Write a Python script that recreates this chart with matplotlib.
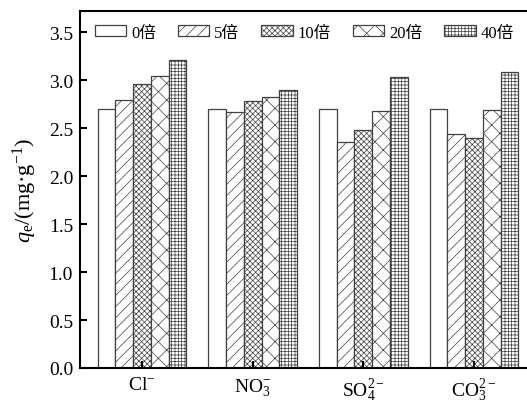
import numpy as np
import matplotlib
matplotlib.use('Agg')
import matplotlib.pyplot as plt

plt.rcParams['font.family'] = ['Liberation Serif', 'Noto Sans CJK SC']
plt.rcParams['mathtext.fontset'] = 'custom'
plt.rcParams['mathtext.rm'] = 'Liberation Serif'
plt.rcParams['mathtext.it'] = 'Liberation Serif:italic'
plt.rcParams['hatch.linewidth'] = 0.5

# data
ions = ['Cl$^{-}$', 'NO$_3^{-}$', 'SO$_4^{2-}$', 'CO$_3^{2-}$']
series_names = ['0倍', '5倍', '10倍', '20倍', '40倍']
q_0 = [2.70, 2.70, 2.70, 2.70]
q_5 = [2.79, 2.67, 2.35, 2.44]
q_10 = [2.96, 2.78, 2.48, 2.40]
q_20 = [3.04, 2.82, 2.68, 2.69]
q_40 = [3.21, 2.90, 3.03, 3.08]
y_ticks = [0.0, 0.5, 1.0, 1.5, 2.0, 2.5, 3.0, 3.5]

hatches = ['', '///', 'xxxxxx', 'xx', '+++++']
all_series = [q_0, q_5, q_10, q_20, q_40]

fig = plt.figure(figsize=(5.27, 4.06), dpi=100)
# axes runs a bit past the right edge like the cropped original
ax = fig.add_axes([80 / 527, 37 / 406, 456 / 527, 357 / 406])

x = np.arange(len(ions))
width = 0.16
for i, (vals, h, name) in enumerate(zip(all_series, hatches, series_names)):
    ax.bar(x + (i - 2) * width, vals, width, facecolor='white', edgecolor='#404040',
           linewidth=0.9, hatch=h, label=name)

ax.set_xlim(-0.56, 3.56)
ax.set_ylim(0, 3.72)
ax.set_xticks(x)
ax.set_xticklabels(ions, fontsize=14)
ax.set_yticks(y_ticks)
ax.set_yticklabels(['%.1f' % v for v in y_ticks], fontsize=14)
ax.tick_params(direction='in', length=5, width=1.5, pad=5)
ax.tick_params(axis='x', pad=6)
for s in ax.spines.values():
    s.set_linewidth(1.5)

ax.set_ylabel('$q_\\mathrm{e}$/(mg·g$^{-1}$)', fontsize=16, labelpad=7)

ax.legend(loc='upper left', bbox_to_anchor=(0.01, 0.99), ncol=5, frameon=False,
          fontsize=12, handlelength=1.9, handleheight=0.65, handletextpad=0.3,
          columnspacing=1.3, borderaxespad=0.2)

fig.savefig('out.png', dpi=100)
